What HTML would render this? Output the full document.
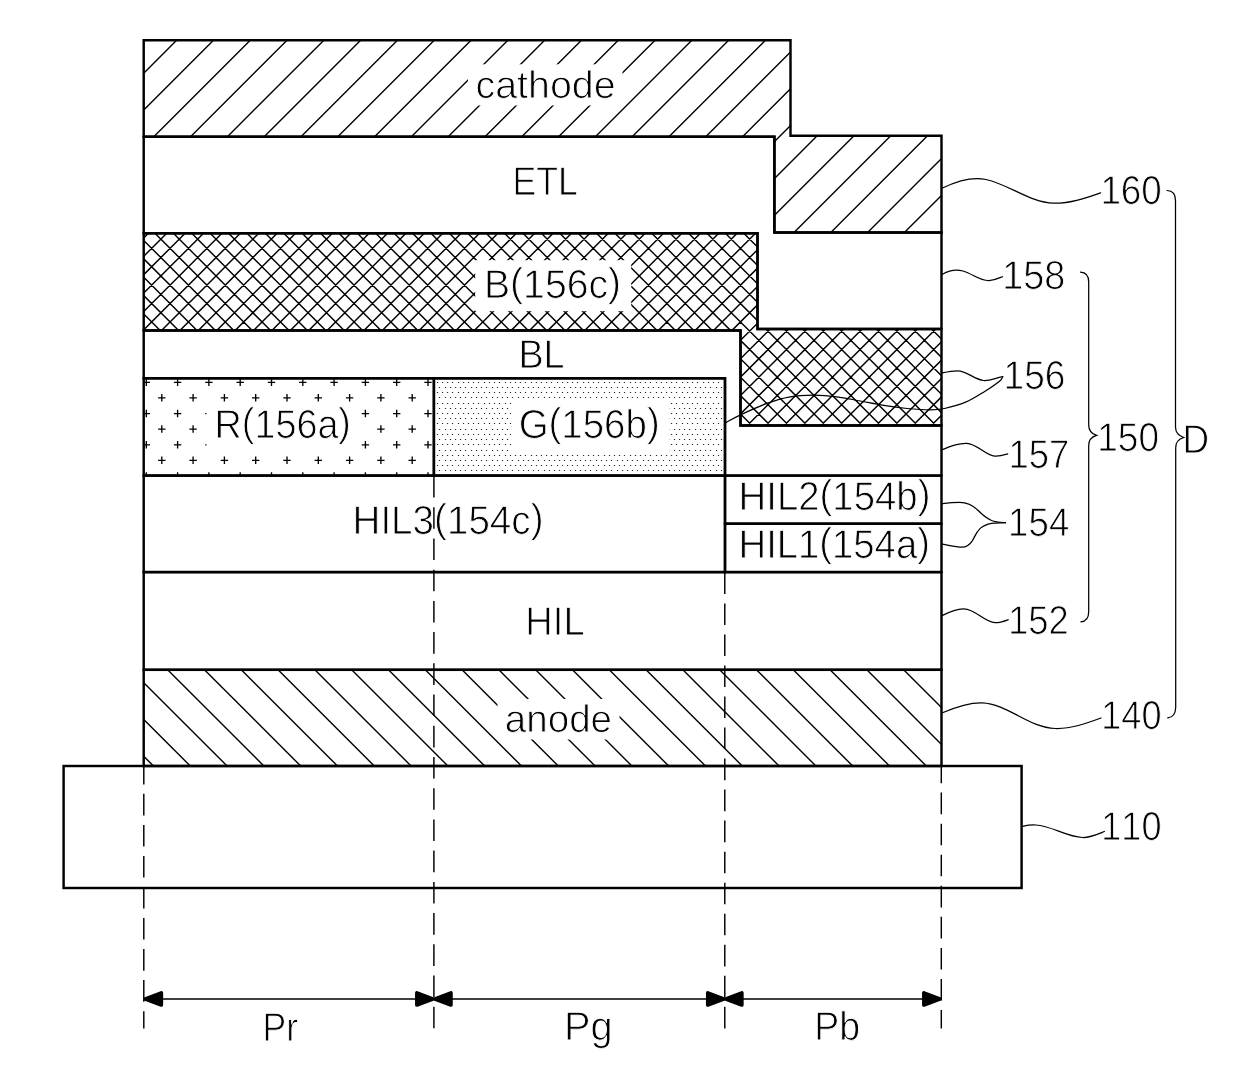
<!DOCTYPE html>
<html lang="en"><head><meta charset="utf-8"><title>Figure</title>
<style>html,body{margin:0;padding:0;background:#fff}svg{display:block}</style></head>
<body>
<svg width="1240" height="1071" viewBox="0 0 1240 1071">
<defs>
<clipPath id="cpC"><polygon points="143.7,40.3 790.5,40.3 790.5,135.8 941.5,135.8 941.5,232.5 774.4,232.5 774.4,136.7 143.7,136.7" /></clipPath>
<clipPath id="cpB"><polygon points="143.7,233.3 757.5,233.3 757.5,328.9 941.5,328.9 941.5,425.5 740.5,425.5 740.5,330.4 143.7,330.4" /></clipPath>
<clipPath id="cpA"><rect x="143.7" y="669.8" width="797.8" height="96.20000000000005"/></clipPath>
<clipPath id="cpR"><rect x="143.7" y="378.3" width="290.2" height="97.30000000000001"/></clipPath>
<clipPath id="cpG"><rect x="433.9" y="378.3" width="291.1" height="97.30000000000001"/></clipPath>
</defs>
<rect width="1240" height="1071" fill="#fff"/>
<g clip-path="url(#cpC)"><path d="M144.80,35.30L-58.20,238.30M181.60,35.30L-21.40,238.30M218.40,35.30L15.40,238.30M255.20,35.30L52.20,238.30M292.00,35.30L89.00,238.30M328.80,35.30L125.80,238.30M365.60,35.30L162.60,238.30M402.40,35.30L199.40,238.30M439.20,35.30L236.20,238.30M476.00,35.30L273.00,238.30M512.80,35.30L309.80,238.30M549.60,35.30L346.60,238.30M586.40,35.30L383.40,238.30M623.20,35.30L420.20,238.30M660.00,35.30L457.00,238.30M696.80,35.30L493.80,238.30M733.60,35.30L530.60,238.30M770.40,35.30L567.40,238.30M807.20,35.30L604.20,238.30M844.00,35.30L641.00,238.30M880.80,35.30L677.80,238.30M917.60,35.30L714.60,238.30M954.40,35.30L751.40,238.30M991.20,35.30L788.20,238.30M1028.00,35.30L825.00,238.30M1064.80,35.30L861.80,238.30M1101.60,35.30L898.60,238.30M1138.40,35.30L935.40,238.30" stroke="#000" stroke-width="1.4" fill="none"/>
<rect x="468" y="64.3" width="154.5" height="41.2" fill="#fff"/></g>
<g clip-path="url(#cpB)"><path d="M154.10,227.50L-48.90,430.50M172.50,227.50L-30.50,430.50M190.90,227.50L-12.10,430.50M209.30,227.50L6.30,430.50M227.70,227.50L24.70,430.50M246.10,227.50L43.10,430.50M264.50,227.50L61.50,430.50M282.90,227.50L79.90,430.50M301.30,227.50L98.30,430.50M319.70,227.50L116.70,430.50M338.10,227.50L135.10,430.50M356.50,227.50L153.50,430.50M374.90,227.50L171.90,430.50M393.30,227.50L190.30,430.50M411.70,227.50L208.70,430.50M430.10,227.50L227.10,430.50M448.50,227.50L245.50,430.50M466.90,227.50L263.90,430.50M485.30,227.50L282.30,430.50M503.70,227.50L300.70,430.50M522.10,227.50L319.10,430.50M540.50,227.50L337.50,430.50M558.90,227.50L355.90,430.50M577.30,227.50L374.30,430.50M595.70,227.50L392.70,430.50M614.10,227.50L411.10,430.50M632.50,227.50L429.50,430.50M650.90,227.50L447.90,430.50M669.30,227.50L466.30,430.50M687.70,227.50L484.70,430.50M706.10,227.50L503.10,430.50M724.50,227.50L521.50,430.50M742.90,227.50L539.90,430.50M761.30,227.50L558.30,430.50M779.70,227.50L576.70,430.50M798.10,227.50L595.10,430.50M816.50,227.50L613.50,430.50M834.90,227.50L631.90,430.50M853.30,227.50L650.30,430.50M871.70,227.50L668.70,430.50M890.10,227.50L687.10,430.50M908.50,227.50L705.50,430.50M926.90,227.50L723.90,430.50M945.30,227.50L742.30,430.50M963.70,227.50L760.70,430.50M982.10,227.50L779.10,430.50M1000.50,227.50L797.50,430.50M1018.90,227.50L815.90,430.50M1037.30,227.50L834.30,430.50M1055.70,227.50L852.70,430.50M1074.10,227.50L871.10,430.50M1092.50,227.50L889.50,430.50M1110.90,227.50L907.90,430.50M1129.30,227.50L926.30,430.50M1147.70,227.50L944.70,430.50M-53.20,227.50L149.80,430.50M-34.80,227.50L168.20,430.50M-16.40,227.50L186.60,430.50M2.00,227.50L205.00,430.50M20.40,227.50L223.40,430.50M38.80,227.50L241.80,430.50M57.20,227.50L260.20,430.50M75.60,227.50L278.60,430.50M94.00,227.50L297.00,430.50M112.40,227.50L315.40,430.50M130.80,227.50L333.80,430.50M149.20,227.50L352.20,430.50M167.60,227.50L370.60,430.50M186.00,227.50L389.00,430.50M204.40,227.50L407.40,430.50M222.80,227.50L425.80,430.50M241.20,227.50L444.20,430.50M259.60,227.50L462.60,430.50M278.00,227.50L481.00,430.50M296.40,227.50L499.40,430.50M314.80,227.50L517.80,430.50M333.20,227.50L536.20,430.50M351.60,227.50L554.60,430.50M370.00,227.50L573.00,430.50M388.40,227.50L591.40,430.50M406.80,227.50L609.80,430.50M425.20,227.50L628.20,430.50M443.60,227.50L646.60,430.50M462.00,227.50L665.00,430.50M480.40,227.50L683.40,430.50M498.80,227.50L701.80,430.50M517.20,227.50L720.20,430.50M535.60,227.50L738.60,430.50M554.00,227.50L757.00,430.50M572.40,227.50L775.40,430.50M590.80,227.50L793.80,430.50M609.20,227.50L812.20,430.50M627.60,227.50L830.60,430.50M646.00,227.50L849.00,430.50M664.40,227.50L867.40,430.50M682.80,227.50L885.80,430.50M701.20,227.50L904.20,430.50M719.60,227.50L922.60,430.50M738.00,227.50L941.00,430.50M756.40,227.50L959.40,430.50M774.80,227.50L977.80,430.50M793.20,227.50L996.20,430.50M811.60,227.50L1014.60,430.50M830.00,227.50L1033.00,430.50M848.40,227.50L1051.40,430.50M866.80,227.50L1069.80,430.50M885.20,227.50L1088.20,430.50M903.60,227.50L1106.60,430.50M922.00,227.50L1125.00,430.50M940.40,227.50L1143.40,430.50" stroke="#000" stroke-width="1.45" fill="none"/>
<rect x="475.2" y="260.2" width="156" height="51" fill="#fff"/></g>
<g clip-path="url(#cpA)"><path d="M52.30,664.80L158.50,771.00M89.10,664.80L195.30,771.00M125.90,664.80L232.10,771.00M162.70,664.80L268.90,771.00M199.50,664.80L305.70,771.00M236.30,664.80L342.50,771.00M273.10,664.80L379.30,771.00M309.90,664.80L416.10,771.00M346.70,664.80L452.90,771.00M383.50,664.80L489.70,771.00M420.30,664.80L526.50,771.00M457.10,664.80L563.30,771.00M493.90,664.80L600.10,771.00M530.70,664.80L636.90,771.00M567.50,664.80L673.70,771.00M604.30,664.80L710.50,771.00M641.10,664.80L747.30,771.00M677.90,664.80L784.10,771.00M714.70,664.80L820.90,771.00M751.50,664.80L857.70,771.00M788.30,664.80L894.50,771.00M825.10,664.80L931.30,771.00M861.90,664.80L968.10,771.00M898.70,664.80L1004.90,771.00M935.50,664.80L1041.70,771.00" stroke="#000" stroke-width="1.4" fill="none"/>
<rect x="497.5" y="699" width="122" height="40.5" fill="#fff"/></g>
<g clip-path="url(#cpR)"><path d="M126.80,397.80h7.4M130.50,394.10v7.4M142.60,382.30h7.4M146.30,378.60v7.4M158.10,397.80h7.4M161.80,394.10v7.4M173.90,382.30h7.4M177.60,378.60v7.4M189.40,397.80h7.4M193.10,394.10v7.4M205.20,382.30h7.4M208.90,378.60v7.4M220.70,397.80h7.4M224.40,394.10v7.4M236.50,382.30h7.4M240.20,378.60v7.4M252.00,397.80h7.4M255.70,394.10v7.4M267.80,382.30h7.4M271.50,378.60v7.4M283.30,397.80h7.4M287.00,394.10v7.4M299.10,382.30h7.4M302.80,378.60v7.4M314.60,397.80h7.4M318.30,394.10v7.4M330.40,382.30h7.4M334.10,378.60v7.4M345.90,397.80h7.4M349.60,394.10v7.4M361.70,382.30h7.4M365.40,378.60v7.4M377.20,397.80h7.4M380.90,394.10v7.4M393.00,382.30h7.4M396.70,378.60v7.4M408.50,397.80h7.4M412.20,394.10v7.4M424.30,382.30h7.4M428.00,378.60v7.4M439.80,397.80h7.4M443.50,394.10v7.4M126.80,429.05h7.4M130.50,425.35v7.4M142.60,413.55h7.4M146.30,409.85v7.4M158.10,429.05h7.4M161.80,425.35v7.4M173.90,413.55h7.4M177.60,409.85v7.4M189.40,429.05h7.4M193.10,425.35v7.4M205.20,413.55h7.4M208.90,409.85v7.4M220.70,429.05h7.4M224.40,425.35v7.4M236.50,413.55h7.4M240.20,409.85v7.4M252.00,429.05h7.4M255.70,425.35v7.4M267.80,413.55h7.4M271.50,409.85v7.4M283.30,429.05h7.4M287.00,425.35v7.4M299.10,413.55h7.4M302.80,409.85v7.4M314.60,429.05h7.4M318.30,425.35v7.4M330.40,413.55h7.4M334.10,409.85v7.4M345.90,429.05h7.4M349.60,425.35v7.4M361.70,413.55h7.4M365.40,409.85v7.4M377.20,429.05h7.4M380.90,425.35v7.4M393.00,413.55h7.4M396.70,409.85v7.4M408.50,429.05h7.4M412.20,425.35v7.4M424.30,413.55h7.4M428.00,409.85v7.4M439.80,429.05h7.4M443.50,425.35v7.4M126.80,460.30h7.4M130.50,456.60v7.4M142.60,444.80h7.4M146.30,441.10v7.4M158.10,460.30h7.4M161.80,456.60v7.4M173.90,444.80h7.4M177.60,441.10v7.4M189.40,460.30h7.4M193.10,456.60v7.4M205.20,444.80h7.4M208.90,441.10v7.4M220.70,460.30h7.4M224.40,456.60v7.4M236.50,444.80h7.4M240.20,441.10v7.4M252.00,460.30h7.4M255.70,456.60v7.4M267.80,444.80h7.4M271.50,441.10v7.4M283.30,460.30h7.4M287.00,456.60v7.4M299.10,444.80h7.4M302.80,441.10v7.4M314.60,460.30h7.4M318.30,456.60v7.4M330.40,444.80h7.4M334.10,441.10v7.4M345.90,460.30h7.4M349.60,456.60v7.4M361.70,444.80h7.4M365.40,441.10v7.4M377.20,460.30h7.4M380.90,456.60v7.4M393.00,444.80h7.4M396.70,441.10v7.4M408.50,460.30h7.4M412.20,456.60v7.4M424.30,444.80h7.4M428.00,441.10v7.4M439.80,460.30h7.4M443.50,456.60v7.4M142.60,476.05h7.4M146.30,472.35v7.4M173.90,476.05h7.4M177.60,472.35v7.4M205.20,476.05h7.4M208.90,472.35v7.4M236.50,476.05h7.4M240.20,472.35v7.4M267.80,476.05h7.4M271.50,472.35v7.4M299.10,476.05h7.4M302.80,472.35v7.4M330.40,476.05h7.4M334.10,472.35v7.4M361.70,476.05h7.4M365.40,472.35v7.4M393.00,476.05h7.4M396.70,472.35v7.4M424.30,476.05h7.4M428.00,472.35v7.4" stroke="#000" stroke-width="1.35" fill="none"/>
<rect x="206.5" y="402" width="153.5" height="54" fill="#fff"/></g>
<g clip-path="url(#cpG)"><path d="M437.5,382.5h.01m4.99,0h.01m4.99,0h.01m4.99,0h.01m5.99,0h.01m4.99,0h.01m4.99,0h.01m4.99,0h.01m4.99,0h.01m5.99,0h.01m4.99,0h.01m4.99,0h.01m4.99,0h.01m5.99,0h.01m4.99,0h.01m4.99,0h.01m4.99,0h.01m4.99,0h.01m5.99,0h.01m4.99,0h.01m4.99,0h.01m4.99,0h.01m4.99,0h.01m5.99,0h.01m4.99,0h.01m4.99,0h.01m4.99,0h.01m4.99,0h.01m5.99,0h.01m4.99,0h.01m4.99,0h.01m4.99,0h.01m5.99,0h.01m4.99,0h.01m4.99,0h.01m4.99,0h.01m4.99,0h.01m5.99,0h.01m4.99,0h.01m4.99,0h.01m4.99,0h.01m4.99,0h.01m5.99,0h.01m4.99,0h.01m4.99,0h.01m4.99,0h.01m4.99,0h.01m5.99,0h.01m4.99,0h.01m4.99,0h.01m4.99,0h.01m5.99,0h.01m4.99,0h.01m4.99,0h.01m4.99,0h.01M439.5,387.5h.01m5.99,0h.01m4.99,0h.01m4.99,0h.01m4.99,0h.01m4.99,0h.01m5.99,0h.01m4.99,0h.01m4.99,0h.01m4.99,0h.01m5.99,0h.01m4.99,0h.01m4.99,0h.01m4.99,0h.01m4.99,0h.01m5.99,0h.01m4.99,0h.01m4.99,0h.01m4.99,0h.01m4.99,0h.01m5.99,0h.01m4.99,0h.01m4.99,0h.01m4.99,0h.01m4.99,0h.01m5.99,0h.01m4.99,0h.01m4.99,0h.01m4.99,0h.01m4.99,0h.01m5.99,0h.01m4.99,0h.01m4.99,0h.01m4.99,0h.01m5.99,0h.01m4.99,0h.01m4.99,0h.01m4.99,0h.01m4.99,0h.01m5.99,0h.01m4.99,0h.01m4.99,0h.01m4.99,0h.01m4.99,0h.01m5.99,0h.01m4.99,0h.01m4.99,0h.01m4.99,0h.01m4.99,0h.01m5.99,0h.01m4.99,0h.01m4.99,0h.01m4.99,0h.01m5.99,0h.01m4.99,0h.01M437.5,392.5h.01m4.99,0h.01m4.99,0h.01m4.99,0h.01m5.99,0h.01m4.99,0h.01m4.99,0h.01m4.99,0h.01m4.99,0h.01m5.99,0h.01m4.99,0h.01m4.99,0h.01m4.99,0h.01m5.99,0h.01m4.99,0h.01m4.99,0h.01m4.99,0h.01m4.99,0h.01m5.99,0h.01m4.99,0h.01m4.99,0h.01m4.99,0h.01m4.99,0h.01m5.99,0h.01m4.99,0h.01m4.99,0h.01m4.99,0h.01m4.99,0h.01m5.99,0h.01m4.99,0h.01m4.99,0h.01m4.99,0h.01m5.99,0h.01m4.99,0h.01m4.99,0h.01m4.99,0h.01m4.99,0h.01m5.99,0h.01m4.99,0h.01m4.99,0h.01m4.99,0h.01m4.99,0h.01m5.99,0h.01m4.99,0h.01m4.99,0h.01m4.99,0h.01m4.99,0h.01m5.99,0h.01m4.99,0h.01m4.99,0h.01m4.99,0h.01m5.99,0h.01m4.99,0h.01m4.99,0h.01m4.99,0h.01M439.5,397.5h.01m5.99,0h.01m4.99,0h.01m4.99,0h.01m4.99,0h.01m4.99,0h.01m5.99,0h.01m4.99,0h.01m4.99,0h.01m4.99,0h.01m5.99,0h.01m4.99,0h.01m4.99,0h.01m4.99,0h.01m4.99,0h.01m5.99,0h.01m4.99,0h.01m4.99,0h.01m4.99,0h.01m4.99,0h.01m5.99,0h.01m4.99,0h.01m4.99,0h.01m4.99,0h.01m4.99,0h.01m5.99,0h.01m4.99,0h.01m4.99,0h.01m4.99,0h.01m4.99,0h.01m5.99,0h.01m4.99,0h.01m4.99,0h.01m4.99,0h.01m5.99,0h.01m4.99,0h.01m4.99,0h.01m4.99,0h.01m4.99,0h.01m5.99,0h.01m4.99,0h.01m4.99,0h.01m4.99,0h.01m4.99,0h.01m5.99,0h.01m4.99,0h.01m4.99,0h.01m4.99,0h.01m4.99,0h.01m5.99,0h.01m4.99,0h.01m4.99,0h.01m4.99,0h.01m5.99,0h.01m4.99,0h.01M437.5,403.5h.01m4.99,0h.01m4.99,0h.01m4.99,0h.01m5.99,0h.01m4.99,0h.01m4.99,0h.01m4.99,0h.01m4.99,0h.01m5.99,0h.01m4.99,0h.01m4.99,0h.01m4.99,0h.01m5.99,0h.01m4.99,0h.01m4.99,0h.01m4.99,0h.01m4.99,0h.01m5.99,0h.01m4.99,0h.01m4.99,0h.01m4.99,0h.01m4.99,0h.01m5.99,0h.01m4.99,0h.01m4.99,0h.01m4.99,0h.01m4.99,0h.01m5.99,0h.01m4.99,0h.01m4.99,0h.01m4.99,0h.01m5.99,0h.01m4.99,0h.01m4.99,0h.01m4.99,0h.01m4.99,0h.01m5.99,0h.01m4.99,0h.01m4.99,0h.01m4.99,0h.01m4.99,0h.01m5.99,0h.01m4.99,0h.01m4.99,0h.01m4.99,0h.01m4.99,0h.01m5.99,0h.01m4.99,0h.01m4.99,0h.01m4.99,0h.01m5.99,0h.01m4.99,0h.01m4.99,0h.01m4.99,0h.01M439.5,408.5h.01m5.99,0h.01m4.99,0h.01m4.99,0h.01m4.99,0h.01m4.99,0h.01m5.99,0h.01m4.99,0h.01m4.99,0h.01m4.99,0h.01m5.99,0h.01m4.99,0h.01m4.99,0h.01m4.99,0h.01m4.99,0h.01m5.99,0h.01m4.99,0h.01m4.99,0h.01m4.99,0h.01m4.99,0h.01m5.99,0h.01m4.99,0h.01m4.99,0h.01m4.99,0h.01m4.99,0h.01m5.99,0h.01m4.99,0h.01m4.99,0h.01m4.99,0h.01m4.99,0h.01m5.99,0h.01m4.99,0h.01m4.99,0h.01m4.99,0h.01m5.99,0h.01m4.99,0h.01m4.99,0h.01m4.99,0h.01m4.99,0h.01m5.99,0h.01m4.99,0h.01m4.99,0h.01m4.99,0h.01m4.99,0h.01m5.99,0h.01m4.99,0h.01m4.99,0h.01m4.99,0h.01m4.99,0h.01m5.99,0h.01m4.99,0h.01m4.99,0h.01m4.99,0h.01m5.99,0h.01m4.99,0h.01M437.5,413.5h.01m4.99,0h.01m4.99,0h.01m4.99,0h.01m5.99,0h.01m4.99,0h.01m4.99,0h.01m4.99,0h.01m4.99,0h.01m5.99,0h.01m4.99,0h.01m4.99,0h.01m4.99,0h.01m5.99,0h.01m4.99,0h.01m4.99,0h.01m4.99,0h.01m4.99,0h.01m5.99,0h.01m4.99,0h.01m4.99,0h.01m4.99,0h.01m4.99,0h.01m5.99,0h.01m4.99,0h.01m4.99,0h.01m4.99,0h.01m4.99,0h.01m5.99,0h.01m4.99,0h.01m4.99,0h.01m4.99,0h.01m5.99,0h.01m4.99,0h.01m4.99,0h.01m4.99,0h.01m4.99,0h.01m5.99,0h.01m4.99,0h.01m4.99,0h.01m4.99,0h.01m4.99,0h.01m5.99,0h.01m4.99,0h.01m4.99,0h.01m4.99,0h.01m4.99,0h.01m5.99,0h.01m4.99,0h.01m4.99,0h.01m4.99,0h.01m5.99,0h.01m4.99,0h.01m4.99,0h.01m4.99,0h.01M439.5,418.5h.01m5.99,0h.01m4.99,0h.01m4.99,0h.01m4.99,0h.01m4.99,0h.01m5.99,0h.01m4.99,0h.01m4.99,0h.01m4.99,0h.01m5.99,0h.01m4.99,0h.01m4.99,0h.01m4.99,0h.01m4.99,0h.01m5.99,0h.01m4.99,0h.01m4.99,0h.01m4.99,0h.01m4.99,0h.01m5.99,0h.01m4.99,0h.01m4.99,0h.01m4.99,0h.01m4.99,0h.01m5.99,0h.01m4.99,0h.01m4.99,0h.01m4.99,0h.01m4.99,0h.01m5.99,0h.01m4.99,0h.01m4.99,0h.01m4.99,0h.01m5.99,0h.01m4.99,0h.01m4.99,0h.01m4.99,0h.01m4.99,0h.01m5.99,0h.01m4.99,0h.01m4.99,0h.01m4.99,0h.01m4.99,0h.01m5.99,0h.01m4.99,0h.01m4.99,0h.01m4.99,0h.01m4.99,0h.01m5.99,0h.01m4.99,0h.01m4.99,0h.01m4.99,0h.01m5.99,0h.01m4.99,0h.01M437.5,423.5h.01m4.99,0h.01m4.99,0h.01m4.99,0h.01m5.99,0h.01m4.99,0h.01m4.99,0h.01m4.99,0h.01m4.99,0h.01m5.99,0h.01m4.99,0h.01m4.99,0h.01m4.99,0h.01m5.99,0h.01m4.99,0h.01m4.99,0h.01m4.99,0h.01m4.99,0h.01m5.99,0h.01m4.99,0h.01m4.99,0h.01m4.99,0h.01m4.99,0h.01m5.99,0h.01m4.99,0h.01m4.99,0h.01m4.99,0h.01m4.99,0h.01m5.99,0h.01m4.99,0h.01m4.99,0h.01m4.99,0h.01m5.99,0h.01m4.99,0h.01m4.99,0h.01m4.99,0h.01m4.99,0h.01m5.99,0h.01m4.99,0h.01m4.99,0h.01m4.99,0h.01m4.99,0h.01m5.99,0h.01m4.99,0h.01m4.99,0h.01m4.99,0h.01m4.99,0h.01m5.99,0h.01m4.99,0h.01m4.99,0h.01m4.99,0h.01m5.99,0h.01m4.99,0h.01m4.99,0h.01m4.99,0h.01M439.5,429.5h.01m5.99,0h.01m4.99,0h.01m4.99,0h.01m4.99,0h.01m4.99,0h.01m5.99,0h.01m4.99,0h.01m4.99,0h.01m4.99,0h.01m5.99,0h.01m4.99,0h.01m4.99,0h.01m4.99,0h.01m4.99,0h.01m5.99,0h.01m4.99,0h.01m4.99,0h.01m4.99,0h.01m4.99,0h.01m5.99,0h.01m4.99,0h.01m4.99,0h.01m4.99,0h.01m4.99,0h.01m5.99,0h.01m4.99,0h.01m4.99,0h.01m4.99,0h.01m4.99,0h.01m5.99,0h.01m4.99,0h.01m4.99,0h.01m4.99,0h.01m5.99,0h.01m4.99,0h.01m4.99,0h.01m4.99,0h.01m4.99,0h.01m5.99,0h.01m4.99,0h.01m4.99,0h.01m4.99,0h.01m4.99,0h.01m5.99,0h.01m4.99,0h.01m4.99,0h.01m4.99,0h.01m4.99,0h.01m5.99,0h.01m4.99,0h.01m4.99,0h.01m4.99,0h.01m5.99,0h.01m4.99,0h.01M437.5,434.5h.01m4.99,0h.01m4.99,0h.01m4.99,0h.01m5.99,0h.01m4.99,0h.01m4.99,0h.01m4.99,0h.01m4.99,0h.01m5.99,0h.01m4.99,0h.01m4.99,0h.01m4.99,0h.01m5.99,0h.01m4.99,0h.01m4.99,0h.01m4.99,0h.01m4.99,0h.01m5.99,0h.01m4.99,0h.01m4.99,0h.01m4.99,0h.01m4.99,0h.01m5.99,0h.01m4.99,0h.01m4.99,0h.01m4.99,0h.01m4.99,0h.01m5.99,0h.01m4.99,0h.01m4.99,0h.01m4.99,0h.01m5.99,0h.01m4.99,0h.01m4.99,0h.01m4.99,0h.01m4.99,0h.01m5.99,0h.01m4.99,0h.01m4.99,0h.01m4.99,0h.01m4.99,0h.01m5.99,0h.01m4.99,0h.01m4.99,0h.01m4.99,0h.01m4.99,0h.01m5.99,0h.01m4.99,0h.01m4.99,0h.01m4.99,0h.01m5.99,0h.01m4.99,0h.01m4.99,0h.01m4.99,0h.01M439.5,439.5h.01m5.99,0h.01m4.99,0h.01m4.99,0h.01m4.99,0h.01m4.99,0h.01m5.99,0h.01m4.99,0h.01m4.99,0h.01m4.99,0h.01m5.99,0h.01m4.99,0h.01m4.99,0h.01m4.99,0h.01m4.99,0h.01m5.99,0h.01m4.99,0h.01m4.99,0h.01m4.99,0h.01m4.99,0h.01m5.99,0h.01m4.99,0h.01m4.99,0h.01m4.99,0h.01m4.99,0h.01m5.99,0h.01m4.99,0h.01m4.99,0h.01m4.99,0h.01m4.99,0h.01m5.99,0h.01m4.99,0h.01m4.99,0h.01m4.99,0h.01m5.99,0h.01m4.99,0h.01m4.99,0h.01m4.99,0h.01m4.99,0h.01m5.99,0h.01m4.99,0h.01m4.99,0h.01m4.99,0h.01m4.99,0h.01m5.99,0h.01m4.99,0h.01m4.99,0h.01m4.99,0h.01m4.99,0h.01m5.99,0h.01m4.99,0h.01m4.99,0h.01m4.99,0h.01m5.99,0h.01m4.99,0h.01M437.5,444.5h.01m4.99,0h.01m4.99,0h.01m4.99,0h.01m5.99,0h.01m4.99,0h.01m4.99,0h.01m4.99,0h.01m4.99,0h.01m5.99,0h.01m4.99,0h.01m4.99,0h.01m4.99,0h.01m5.99,0h.01m4.99,0h.01m4.99,0h.01m4.99,0h.01m4.99,0h.01m5.99,0h.01m4.99,0h.01m4.99,0h.01m4.99,0h.01m4.99,0h.01m5.99,0h.01m4.99,0h.01m4.99,0h.01m4.99,0h.01m4.99,0h.01m5.99,0h.01m4.99,0h.01m4.99,0h.01m4.99,0h.01m5.99,0h.01m4.99,0h.01m4.99,0h.01m4.99,0h.01m4.99,0h.01m5.99,0h.01m4.99,0h.01m4.99,0h.01m4.99,0h.01m4.99,0h.01m5.99,0h.01m4.99,0h.01m4.99,0h.01m4.99,0h.01m4.99,0h.01m5.99,0h.01m4.99,0h.01m4.99,0h.01m4.99,0h.01m5.99,0h.01m4.99,0h.01m4.99,0h.01m4.99,0h.01M439.5,450.5h.01m5.99,0h.01m4.99,0h.01m4.99,0h.01m4.99,0h.01m4.99,0h.01m5.99,0h.01m4.99,0h.01m4.99,0h.01m4.99,0h.01m5.99,0h.01m4.99,0h.01m4.99,0h.01m4.99,0h.01m4.99,0h.01m5.99,0h.01m4.99,0h.01m4.99,0h.01m4.99,0h.01m4.99,0h.01m5.99,0h.01m4.99,0h.01m4.99,0h.01m4.99,0h.01m4.99,0h.01m5.99,0h.01m4.99,0h.01m4.99,0h.01m4.99,0h.01m4.99,0h.01m5.99,0h.01m4.99,0h.01m4.99,0h.01m4.99,0h.01m5.99,0h.01m4.99,0h.01m4.99,0h.01m4.99,0h.01m4.99,0h.01m5.99,0h.01m4.99,0h.01m4.99,0h.01m4.99,0h.01m4.99,0h.01m5.99,0h.01m4.99,0h.01m4.99,0h.01m4.99,0h.01m4.99,0h.01m5.99,0h.01m4.99,0h.01m4.99,0h.01m4.99,0h.01m5.99,0h.01m4.99,0h.01M437.5,455.5h.01m4.99,0h.01m4.99,0h.01m4.99,0h.01m5.99,0h.01m4.99,0h.01m4.99,0h.01m4.99,0h.01m4.99,0h.01m5.99,0h.01m4.99,0h.01m4.99,0h.01m4.99,0h.01m5.99,0h.01m4.99,0h.01m4.99,0h.01m4.99,0h.01m4.99,0h.01m5.99,0h.01m4.99,0h.01m4.99,0h.01m4.99,0h.01m4.99,0h.01m5.99,0h.01m4.99,0h.01m4.99,0h.01m4.99,0h.01m4.99,0h.01m5.99,0h.01m4.99,0h.01m4.99,0h.01m4.99,0h.01m5.99,0h.01m4.99,0h.01m4.99,0h.01m4.99,0h.01m4.99,0h.01m5.99,0h.01m4.99,0h.01m4.99,0h.01m4.99,0h.01m4.99,0h.01m5.99,0h.01m4.99,0h.01m4.99,0h.01m4.99,0h.01m4.99,0h.01m5.99,0h.01m4.99,0h.01m4.99,0h.01m4.99,0h.01m5.99,0h.01m4.99,0h.01m4.99,0h.01m4.99,0h.01M439.5,460.5h.01m5.99,0h.01m4.99,0h.01m4.99,0h.01m4.99,0h.01m4.99,0h.01m5.99,0h.01m4.99,0h.01m4.99,0h.01m4.99,0h.01m5.99,0h.01m4.99,0h.01m4.99,0h.01m4.99,0h.01m4.99,0h.01m5.99,0h.01m4.99,0h.01m4.99,0h.01m4.99,0h.01m4.99,0h.01m5.99,0h.01m4.99,0h.01m4.99,0h.01m4.99,0h.01m4.99,0h.01m5.99,0h.01m4.99,0h.01m4.99,0h.01m4.99,0h.01m4.99,0h.01m5.99,0h.01m4.99,0h.01m4.99,0h.01m4.99,0h.01m5.99,0h.01m4.99,0h.01m4.99,0h.01m4.99,0h.01m4.99,0h.01m5.99,0h.01m4.99,0h.01m4.99,0h.01m4.99,0h.01m4.99,0h.01m5.99,0h.01m4.99,0h.01m4.99,0h.01m4.99,0h.01m4.99,0h.01m5.99,0h.01m4.99,0h.01m4.99,0h.01m4.99,0h.01m5.99,0h.01m4.99,0h.01M437.5,465.5h.01m4.99,0h.01m4.99,0h.01m4.99,0h.01m5.99,0h.01m4.99,0h.01m4.99,0h.01m4.99,0h.01m4.99,0h.01m5.99,0h.01m4.99,0h.01m4.99,0h.01m4.99,0h.01m5.99,0h.01m4.99,0h.01m4.99,0h.01m4.99,0h.01m4.99,0h.01m5.99,0h.01m4.99,0h.01m4.99,0h.01m4.99,0h.01m4.99,0h.01m5.99,0h.01m4.99,0h.01m4.99,0h.01m4.99,0h.01m4.99,0h.01m5.99,0h.01m4.99,0h.01m4.99,0h.01m4.99,0h.01m5.99,0h.01m4.99,0h.01m4.99,0h.01m4.99,0h.01m4.99,0h.01m5.99,0h.01m4.99,0h.01m4.99,0h.01m4.99,0h.01m4.99,0h.01m5.99,0h.01m4.99,0h.01m4.99,0h.01m4.99,0h.01m4.99,0h.01m5.99,0h.01m4.99,0h.01m4.99,0h.01m4.99,0h.01m5.99,0h.01m4.99,0h.01m4.99,0h.01m4.99,0h.01M439.5,470.5h.01m5.99,0h.01m4.99,0h.01m4.99,0h.01m4.99,0h.01m4.99,0h.01m5.99,0h.01m4.99,0h.01m4.99,0h.01m4.99,0h.01m5.99,0h.01m4.99,0h.01m4.99,0h.01m4.99,0h.01m4.99,0h.01m5.99,0h.01m4.99,0h.01m4.99,0h.01m4.99,0h.01m4.99,0h.01m5.99,0h.01m4.99,0h.01m4.99,0h.01m4.99,0h.01m4.99,0h.01m5.99,0h.01m4.99,0h.01m4.99,0h.01m4.99,0h.01m4.99,0h.01m5.99,0h.01m4.99,0h.01m4.99,0h.01m4.99,0h.01m5.99,0h.01m4.99,0h.01m4.99,0h.01m4.99,0h.01m4.99,0h.01m5.99,0h.01m4.99,0h.01m4.99,0h.01m4.99,0h.01m4.99,0h.01m5.99,0h.01m4.99,0h.01m4.99,0h.01m4.99,0h.01m4.99,0h.01m5.99,0h.01m4.99,0h.01m4.99,0h.01m4.99,0h.01m5.99,0h.01m4.99,0h.01" stroke="#2a2a2a" stroke-width="1.2" fill="none" stroke-linecap="square"/>
<rect x="511.9" y="399.5" width="157.9" height="53" fill="#fff"/></g>
<g fill="none" stroke="#000" stroke-width="2.45" stroke-linejoin="miter">
<polygon points="143.7,40.3 790.5,40.3 790.5,135.8 941.5,135.8 941.5,232.5 774.4,232.5 774.4,136.7 143.7,136.7" />
<polygon points="143.7,136.7 774.4,136.7 774.4,232.5 941.5,232.5 941.5,328.9 757.5,328.9 757.5,233.3 143.7,233.3" />
<polygon points="143.7,233.3 757.5,233.3 757.5,328.9 941.5,328.9 941.5,425.5 740.5,425.5 740.5,330.4 143.7,330.4" />
<polygon points="143.7,330.4 740.5,330.4 740.5,425.5 941.5,425.5 941.5,475.6 725.0,475.6 725.0,378.3 143.7,378.3" />
<rect x="143.7" y="378.3" width="290.2" height="97.30000000000001"/>
<rect x="433.9" y="378.3" width="291.1" height="97.30000000000001"/>
<rect x="143.7" y="475.6" width="581.3" height="96.5"/>
<rect x="725.0" y="475.6" width="216.5" height="48.10000000000002"/>
<rect x="725.0" y="523.7" width="216.5" height="48.39999999999998"/>
<rect x="143.7" y="572.1" width="797.8" height="97.69999999999993"/>
<rect x="143.7" y="669.8" width="797.8" height="96.20000000000005"/>
<rect x="63.6" y="766.0" width="958.0" height="122.0"/>
</g>
<g stroke="#000" stroke-width="1.45" fill="none">
<path d="M143.79999999999998,766.0V784.4M143.79999999999998,793.8V815.4M143.79999999999998,824.9V846.5M143.79999999999998,855.9V877.5M143.79999999999998,887.0V908.6M143.79999999999998,918.0V939.6M143.79999999999998,949.1V970.7M143.79999999999998,980.1V1001.7M143.79999999999998,1011.2V1028.5"/>
<path d="M433.9,476.0V497.6M433.9,507.2V528.8M433.9,538.4V560.0M433.9,569.7V591.3M433.9,600.9V622.5M433.9,632.1V653.7M433.9,663.3V684.9M433.9,694.5V716.1M433.9,725.8V747.4M433.9,757.0V778.6M433.9,788.2V809.8M433.9,819.4V841.0M433.9,850.6V872.2M433.9,881.9V903.5M433.9,913.1V934.7M433.9,944.3V965.9M433.9,975.5V997.1M433.9,1006.7V1028.3"/>
<path d="M724.8,572.4V594.0M724.8,603.4V625.0M724.8,634.5V656.1M724.8,665.5V687.1M724.8,696.5V718.1M724.8,727.5V749.1M724.8,758.6V780.2M724.8,789.6V811.2M724.8,820.6V842.2M724.8,851.7V873.3M724.8,882.7V904.3M724.8,913.7V935.3M724.8,944.8V966.4M724.8,975.8V997.4M724.8,1006.8V1028.4"/>
<path d="M941.3,766.0V783.2M941.3,792.6V814.2M941.3,823.7V845.3M941.3,854.7V876.3M941.3,885.8V907.4M941.3,916.8V938.4M941.3,947.9V969.5M941.3,978.9V1000.5M941.3,1010.0V1028.5"/>
</g>
<path d="M144.29999999999998,999.0H433.9" stroke="#000" stroke-width="1.35" fill="none"/><path d="M145.40,999.0l15.9,-6.0v12.0z M432.80,999.0l-15.9,-6.0v12.0z" fill="#000" stroke="#000" stroke-width="3.7" stroke-linejoin="round"/>
<path d="M433.9,999.0H724.8" stroke="#000" stroke-width="1.35" fill="none"/><path d="M435.00,999.0l15.9,-6.0v12.0z M723.70,999.0l-15.9,-6.0v12.0z" fill="#000" stroke="#000" stroke-width="3.7" stroke-linejoin="round"/>
<path d="M724.8,999.0H940.9" stroke="#000" stroke-width="1.35" fill="none"/><path d="M725.90,999.0l15.9,-6.0v12.0z M939.80,999.0l-15.9,-6.0v12.0z" fill="#000" stroke="#000" stroke-width="3.7" stroke-linejoin="round"/>
<g stroke="#000" stroke-width="1.25" fill="none" stroke-linecap="round">
<path d="M942.5,188 C957,181 972,176.5 986,179.5 C1010,185 1030,202.5 1053.6,203.2 C1070,203.5 1086,198 1100.6,192.8"/>
<path d="M942.5,274.2 C949,270.5 956,269 963,271 C973,274 980,281 989,280.6 C995,280.2 999,278.2 1002.5,276.7"/>
<path d="M1002.7,376.6 C994,378.5 990,381 983.5,380.5 C974,379.5 967,370.8 957.6,370.8 C952,370.8 948,371.6 942.5,372.8"/>
<path d="M1002.7,376.6C1002.2,377.4 1002.6,378.7 999.5,381.2C996.4,383.7 989.9,388.2 984.3,391.7C978.6,395.2 972.2,399.4 965.6,402.2C959.0,405.0 950.4,407.2 944.5,408.5C938.6,409.8 936.7,409.9 930.5,409.9C924.3,409.9 914.9,409.3 907.1,408.5C899.3,407.7 891.5,406.6 883.7,405.3C875.9,404.1 868.1,402.4 860.3,401.0C852.5,399.6 844.7,397.8 836.9,396.8C829.1,395.8 821.3,395.2 813.5,395.2C805.7,395.2 798.0,395.4 790.2,396.8C782.4,398.2 775.0,400.4 766.8,403.4C758.6,406.4 747.8,411.4 741.0,414.6C734.2,417.8 728.3,421.3 725.8,422.6"/>
<path d="M942.5,449.6 C950,446.2 958,443 966.6,443.3 C978,444 985,455.5 994.8,456.1 C1000,456.4 1004,455 1007.7,453.9"/>
<path d="M1005.5,522.7 C1000,522.4 996,522.4 991.5,520.5 C986,518 982,514.5 977.9,510.3 C972,504.5 967,502.4 959.8,502.4 C954,502.4 948,502.9 942.5,503.6"/>
<path d="M1005.5,522.7 C1000,522.9 996,522.6 991.5,523.4 C986,524.5 983,526 980.2,528.4 C976,532.5 975,536.5 972.3,540.8 C969.5,545 967,547.1 962.1,547.1 C955,547.1 949,545.2 942.5,544.2"/>
<path d="M942.5,615.4 C949,612 956,608.6 963.8,608.8 C976,609.2 984,622 995.1,622.6 C1000,622.8 1004,621.2 1008.2,619.7"/>
<path d="M942.5,712.8 C956,707 969,702.5 982.1,702.9 C1008,703.8 1028,727.5 1055.3,728.5 C1071,729 1086,723.5 1101.0,718.0"/>
<path d="M1022.6,826.3 C1027,825.3 1031,824.8 1035.7,825.0 C1052,825.8 1066,837 1082.7,837.5 C1090,837.7 1097,834.5 1104.4,831.5"/>
<path d="M1080.5,272.1 C1086.5,272.3 1088.7,275.5 1088.7,282 V425 C1088.7,431 1091.5,433.8 1096.5,435.3 C1091.5,436.8 1088.7,439.6 1088.7,445.5 V611.5 C1088.7,618 1086.5,621.4 1080.9,621.8"/>
<path d="M1167.1,190.5 C1173,190.7 1175.5,194 1175.5,200.5 V427.3 C1175.7,433.3 1178.6,436 1183.8,437.5 C1178.6,439 1175.7,441.8 1175.7,447.7 V707.5 C1175.5,714 1173,717.4 1167.7,717.8"/>
</g>
<g font-family="'Liberation Sans', sans-serif" font-size="40.41" fill="#000" stroke="#fff" stroke-width="0.9" style="font-kerning:none" text-rendering="geometricPrecision" opacity="0.999">
<text transform="translate(475.57,97.85) scale(1.0184,1)" font-size="38.64">cathode</text>
<text transform="translate(512.38,195.15) scale(0.8826,1)">ETL</text>
<text transform="translate(483.95,298.25) scale(0.9691,1)" dy="0 -2 2 0 0 0 -2">B(156c)</text>
<text transform="translate(518.38,368.35) scale(0.9346,1)">BL</text>
<text transform="translate(214.59,438.25) scale(0.9335,1)" dy="0 -2 2 0 0 0 -2">R(156a)</text>
<text transform="translate(518.64,438.25) scale(0.9510,1)" dy="0 -2 2 0 0 0 -2">G(156b)</text>
<text transform="translate(352.50,533.75) scale(0.9551,1)" dy="0 0 0 0 -2 2 0 0 0 -2">HIL3(154c)</text>
<text transform="translate(525.35,634.95) scale(0.9420,1)">HIL</text>
<text transform="translate(738.53,509.85) scale(0.9487,1)" dy="0 0 0 0 -2 2 0 0 0 -2">HIL2(154b)</text>
<text transform="translate(738.54,558.25) scale(0.9461,1)" dy="0 0 0 0 -2 2 0 0 0 -2">HIL1(154a)</text>
<text transform="translate(504.81,732.45) scale(0.9981,1)" font-size="38.64">anode</text>
<text transform="translate(262.38,1040.55) scale(0.8812,1)">Pr</text>
<text transform="translate(563.99,1040.35) scale(0.9858,1)">Pg</text>
<text transform="translate(814.20,1040.35) scale(0.9285,1)">Pb</text>
<text transform="translate(1100.38,204.45) scale(0.9117,1)">160</text>
<text transform="translate(1002.30,288.65) scale(0.9354,1)">158</text>
<text transform="translate(1003.57,388.85) scale(0.9163,1)">156</text>
<text transform="translate(1008.62,468.35) scale(0.9005,1)">157</text>
<text transform="translate(1008.10,535.65) scale(0.9075,1)">154</text>
<text transform="translate(1008.13,633.55) scale(0.8989,1)">152</text>
<text transform="translate(1097.27,451.15) scale(0.9150,1)">150</text>
<text transform="translate(1182.47,453.25) scale(0.9118,1)">D</text>
<text transform="translate(1101.24,728.65) scale(0.8956,1)">140</text>
<text transform="translate(1101.24,840.05) scale(0.8956,1)">110</text>
</g>
</svg>
</body></html>
